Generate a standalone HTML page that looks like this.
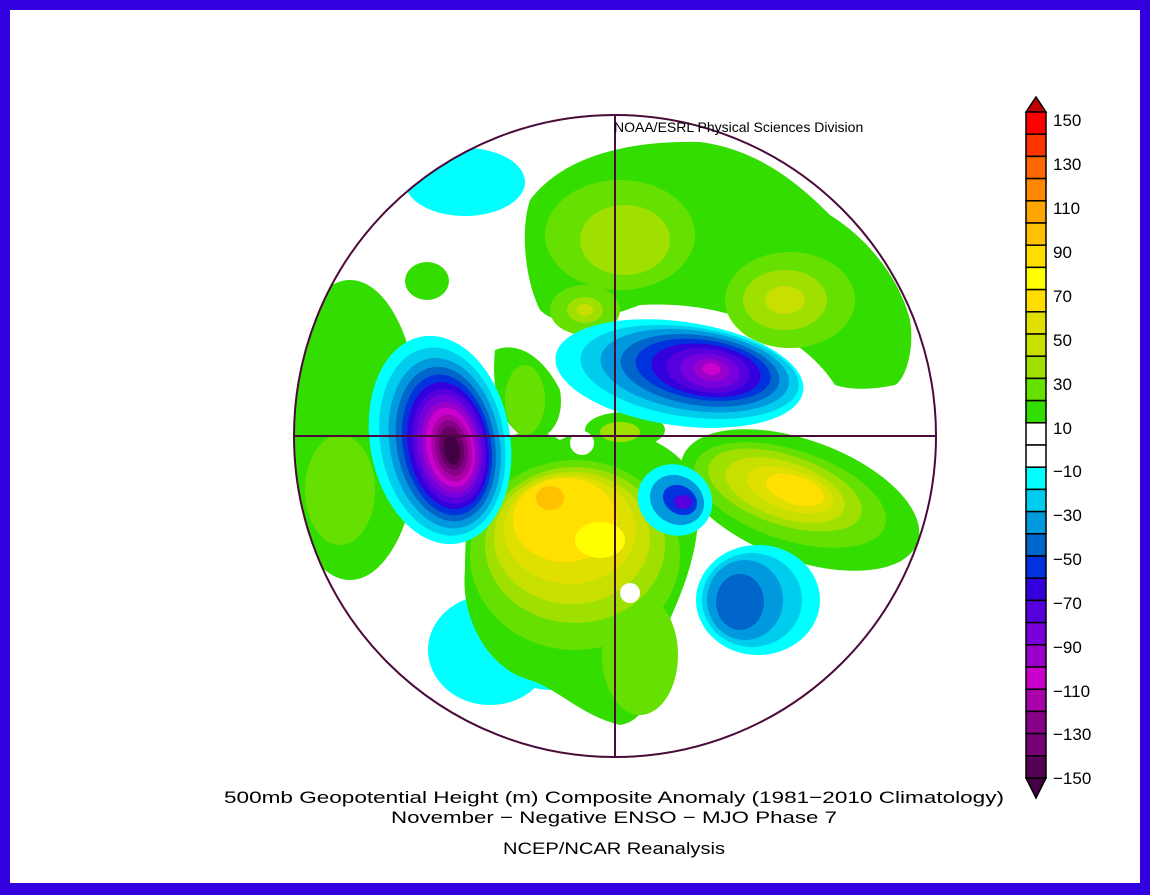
<!DOCTYPE html>
<html><head><meta charset="utf-8"><style>
html,body{margin:0;padding:0;background:#fff}
svg{display:block}
text{font-family:"Liberation Sans",sans-serif;fill:#000}
</style></head><body>
<svg width="1150" height="895" viewBox="0 0 1150 895" xmlns="http://www.w3.org/2000/svg">
<rect x="0" y="0" width="1150" height="895" fill="#3300e0"/>
<rect x="10" y="10" width="1130" height="873" fill="#fff"/>
<defs>
<clipPath id="c"><circle cx="615" cy="436" r="321"/></clipPath>
</defs>
<g clip-path="url(#c)" stroke="none">
<rect x="290" y="110" width="650" height="650" fill="#fff"/>
<!-- top green Eurasia -->
<path d="M530,200 C560,160 620,140 700,142 C760,150 800,185 830,215 C870,240 900,280 910,320 C915,350 905,380 895,385 C870,390 850,390 835,385 C800,330 720,300 640,305 C600,320 560,330 540,310 C525,280 520,230 530,200Z" fill="#33dd00"/>
<ellipse cx="620" cy="235" rx="75" ry="55" fill="#66e000"/>
<ellipse cx="625" cy="240" rx="45" ry="35" fill="#a0e000"/>
<ellipse cx="585" cy="310" rx="35" ry="25" fill="#66e000"/>
<ellipse cx="585" cy="310" rx="18" ry="13" fill="#a0e000"/>
<ellipse cx="585" cy="310" rx="8" ry="6" fill="#c8e000"/>
<ellipse cx="790" cy="300" rx="65" ry="48" fill="#66e000"/>
<ellipse cx="785" cy="300" rx="42" ry="30" fill="#a0e000"/>
<ellipse cx="785" cy="300" rx="20" ry="14" fill="#c8e000"/>
<!-- far left green -->
<ellipse cx="350" cy="430" rx="70" ry="150" fill="#33dd00"/>
<ellipse cx="340" cy="490" rx="35" ry="55" fill="#66e000"/>
<ellipse cx="427" cy="281" rx="22" ry="19" fill="#33dd00"/>
<!-- cyan top-left -->
<ellipse cx="465" cy="182" rx="60" ry="34" fill="#00ffff"/>
<!-- cyan bottom-left -->
<ellipse cx="490" cy="650" rx="62" ry="55" fill="#00ffff"/>
<ellipse cx="550" cy="670" rx="35" ry="20" fill="#00ffff"/>
<ellipse cx="545" cy="672" rx="10" ry="6" fill="#00ccee"/>
<!-- North America high -->
<path d="M470,480 C480,440 530,420 560,440 C600,420 660,430 690,470 C710,520 690,580 660,640 C660,680 650,720 620,725 C580,715 560,690 530,680 C490,670 460,620 465,570 C465,530 470,500 470,480Z" fill="#33dd00"/>
<path d="M495,350 C520,340 545,360 560,390 C565,420 550,440 530,440 C505,430 490,400 495,350Z" fill="#33dd00"/>
<ellipse cx="525" cy="400" rx="20" ry="35" fill="#66e000"/>
<ellipse cx="625" cy="430" rx="40" ry="18" fill="#33dd00"/>
<ellipse cx="620" cy="432" rx="20" ry="10" fill="#a0e000"/>
<ellipse cx="640" cy="655" rx="38" ry="60" fill="#66e000"/>
<ellipse cx="575" cy="555" rx="105" ry="95" fill="#66e000"/>
<ellipse cx="575" cy="545" rx="90" ry="78" fill="#a0e000"/>
<ellipse cx="572" cy="538" rx="78" ry="66" fill="#c8e000"/>
<ellipse cx="570" cy="530" rx="66" ry="54" fill="#e0e000"/>
<ellipse cx="565" cy="520" rx="52" ry="42" fill="#ffe000"/>
<ellipse cx="600" cy="540" rx="25" ry="18" fill="#ffff00"/>
<ellipse cx="550" cy="498" rx="14" ry="12" fill="#ffc000"/>
<circle cx="582" cy="443" r="12" fill="#fff"/>
<circle cx="630" cy="593" r="10" fill="#fff"/>
<!-- Eurasia/Pacific high -->
<ellipse cx="800" cy="500" rx="125" ry="60" transform="rotate(20 800 500)" fill="#33dd00"/>
<ellipse cx="790" cy="495" rx="100" ry="45" transform="rotate(18 790 495)" fill="#66e000"/>
<ellipse cx="785" cy="490" rx="80" ry="35" transform="rotate(18 785 490)" fill="#a0e000"/>
<ellipse cx="785" cy="490" rx="62" ry="28" transform="rotate(18 785 490)" fill="#c8e000"/>
<ellipse cx="790" cy="490" rx="45" ry="20" transform="rotate(18 790 490)" fill="#e0e000"/>
<ellipse cx="795" cy="490" rx="30" ry="14" transform="rotate(18 795 490)" fill="#ffe000"/>
<!-- Pacific big low -->
<g transform="rotate(-10 440 440)">
<ellipse cx="440" cy="440" rx="70" ry="105" fill="#00ffff"/>
<ellipse cx="442" cy="442" rx="62" ry="95" fill="#00ccee"/>
<ellipse cx="444" cy="444" rx="55" ry="86" fill="#0099dd"/>
<ellipse cx="445" cy="445" rx="49" ry="78" fill="#0066cc"/>
<ellipse cx="446" cy="446" rx="44" ry="71" fill="#0033dd"/>
<ellipse cx="447" cy="447" rx="40" ry="64" fill="#3300dd"/>
<ellipse cx="448" cy="448" rx="36" ry="58" fill="#5500dd"/>
<ellipse cx="448" cy="448" rx="32" ry="52" fill="#7700dd"/>
<ellipse cx="449" cy="449" rx="28" ry="46" fill="#9900cc"/>
<ellipse cx="449" cy="449" rx="24" ry="40" fill="#cc00cc"/>
<ellipse cx="450" cy="450" rx="20" ry="34" fill="#aa00aa"/>
<ellipse cx="450" cy="450" rx="16" ry="28" fill="#880088"/>
<ellipse cx="450" cy="450" rx="12" ry="22" fill="#660066"/>
<ellipse cx="450" cy="452" rx="8" ry="15" fill="#440044"/>
</g>
<!-- Eurasia low -->
<g transform="rotate(8 690 370)">
<ellipse cx="680" cy="375" rx="125" ry="52" fill="#00ffff"/>
<ellipse cx="690" cy="372" rx="110" ry="45" fill="#00ccee"/>
<ellipse cx="695" cy="370" rx="95" ry="40" fill="#0099dd"/>
<ellipse cx="700" cy="369" rx="80" ry="35" fill="#0066cc"/>
<ellipse cx="703" cy="368" rx="68" ry="30" fill="#0033dd"/>
<ellipse cx="706" cy="368" rx="55" ry="26" fill="#3300dd"/>
<ellipse cx="708" cy="368" rx="42" ry="22" fill="#5500dd"/>
<ellipse cx="710" cy="368" rx="30" ry="17" fill="#7700dd"/>
<ellipse cx="711" cy="367" rx="18" ry="11" fill="#9900cc"/>
<ellipse cx="711" cy="366" rx="9" ry="6" fill="#cc00cc"/>
</g>
<!-- small low -->
<ellipse cx="675" cy="500" rx="38" ry="35" transform="rotate(30 675 500)" fill="#00ffff"/>
<ellipse cx="677" cy="500" rx="28" ry="24" transform="rotate(30 677 500)" fill="#0099dd"/>
<ellipse cx="680" cy="500" rx="18" ry="14" transform="rotate(30 680 500)" fill="#0033dd"/>
<ellipse cx="683" cy="502" rx="9" ry="7" fill="#5500dd"/>
<!-- Atlantic low -->
<ellipse cx="758" cy="600" rx="62" ry="55" fill="#00ffff"/>
<ellipse cx="752" cy="600" rx="50" ry="47" fill="#00ccee"/>
<ellipse cx="745" cy="600" rx="38" ry="40" fill="#0099dd"/>
<ellipse cx="740" cy="602" rx="24" ry="28" fill="#0066cc"/>
</g>
<line x1="294" y1="436" x2="936" y2="436" stroke="#4a0a3a" stroke-width="2"/>
<line x1="615" y1="115" x2="615" y2="757" stroke="#4a0a3a" stroke-width="2"/>
<circle cx="615" cy="436" r="321" fill="none" stroke="#4a0a3a" stroke-width="2"/>
<text x="614" y="132" font-size="14">NOAA/ESRL Physical Sciences Division</text>
<!-- colorbar -->
<g stroke="#000" stroke-width="1.5">
<polygon points="1026,112 1046,112 1036,97" fill="#c00000"/>
<rect x="1026" y="112" width="20" height="22.2" fill="#ff0000"/>
<rect x="1026" y="134.2" width="20" height="22.2" fill="#ff3300"/>
<rect x="1026" y="156.4" width="20" height="22.2" fill="#ff6600"/>
<rect x="1026" y="178.6" width="20" height="22.2" fill="#ff8800"/>
<rect x="1026" y="200.8" width="20" height="22.2" fill="#ffa500"/>
<rect x="1026" y="223" width="20" height="22.2" fill="#ffc000"/>
<rect x="1026" y="245.2" width="20" height="22.2" fill="#ffdd00"/>
<rect x="1026" y="267.4" width="20" height="22.2" fill="#ffff00"/>
<rect x="1026" y="289.6" width="20" height="22.2" fill="#ffdd00"/>
<rect x="1026" y="311.8" width="20" height="22.2" fill="#e0e000"/>
<rect x="1026" y="334" width="20" height="22.2" fill="#c8e000"/>
<rect x="1026" y="356.2" width="20" height="22.2" fill="#a0e000"/>
<rect x="1026" y="378.4" width="20" height="22.2" fill="#66e000"/>
<rect x="1026" y="400.6" width="20" height="22.2" fill="#33dd00"/>
<rect x="1026" y="422.8" width="20" height="22.2" fill="#ffffff"/>
<rect x="1026" y="445" width="20" height="22.2" fill="#ffffff"/>
<rect x="1026" y="467.2" width="20" height="22.2" fill="#00ffff"/>
<rect x="1026" y="489.4" width="20" height="22.2" fill="#00ccee"/>
<rect x="1026" y="511.6" width="20" height="22.2" fill="#0099dd"/>
<rect x="1026" y="533.8" width="20" height="22.2" fill="#0066cc"/>
<rect x="1026" y="556" width="20" height="22.2" fill="#0033dd"/>
<rect x="1026" y="578.2" width="20" height="22.2" fill="#3300dd"/>
<rect x="1026" y="600.4" width="20" height="22.2" fill="#5500dd"/>
<rect x="1026" y="622.6" width="20" height="22.2" fill="#7700dd"/>
<rect x="1026" y="644.8" width="20" height="22.2" fill="#9900cc"/>
<rect x="1026" y="667" width="20" height="22.2" fill="#cc00cc"/>
<rect x="1026" y="689.2" width="20" height="22.2" fill="#aa00aa"/>
<rect x="1026" y="711.4" width="20" height="22.2" fill="#880088"/>
<rect x="1026" y="733.6" width="20" height="22.2" fill="#770077"/>
<rect x="1026" y="755.8" width="20" height="22.2" fill="#550055"/>
<polygon points="1026,778 1046,778 1036,798" fill="#440044"/>
</g>
<g font-size="17">
<text x="1053" y="126">150</text>
<text x="1053" y="170">130</text>
<text x="1053" y="214">110</text>
<text x="1053" y="258">90</text>
<text x="1053" y="302">70</text>
<text x="1053" y="346">50</text>
<text x="1053" y="390">30</text>
<text x="1053" y="434">10</text>
<text x="1053" y="477">−10</text>
<text x="1053" y="521">−30</text>
<text x="1053" y="565">−50</text>
<text x="1053" y="609">−70</text>
<text x="1053" y="653">−90</text>
<text x="1053" y="697">−110</text>
<text x="1053" y="740">−130</text>
<text x="1053" y="784">−150</text>
</g>
<g font-size="17" text-anchor="middle">
<text x="614" y="803" textLength="780" lengthAdjust="spacingAndGlyphs">500mb Geopotential Height (m) Composite Anomaly (1981−2010 Climatology)</text>
<text x="614" y="823" textLength="446" lengthAdjust="spacingAndGlyphs">November − Negative ENSO − MJO Phase 7</text>
<text x="614" y="854" textLength="222" lengthAdjust="spacingAndGlyphs">NCEP/NCAR Reanalysis</text>
</g>
</svg>
</body></html>
